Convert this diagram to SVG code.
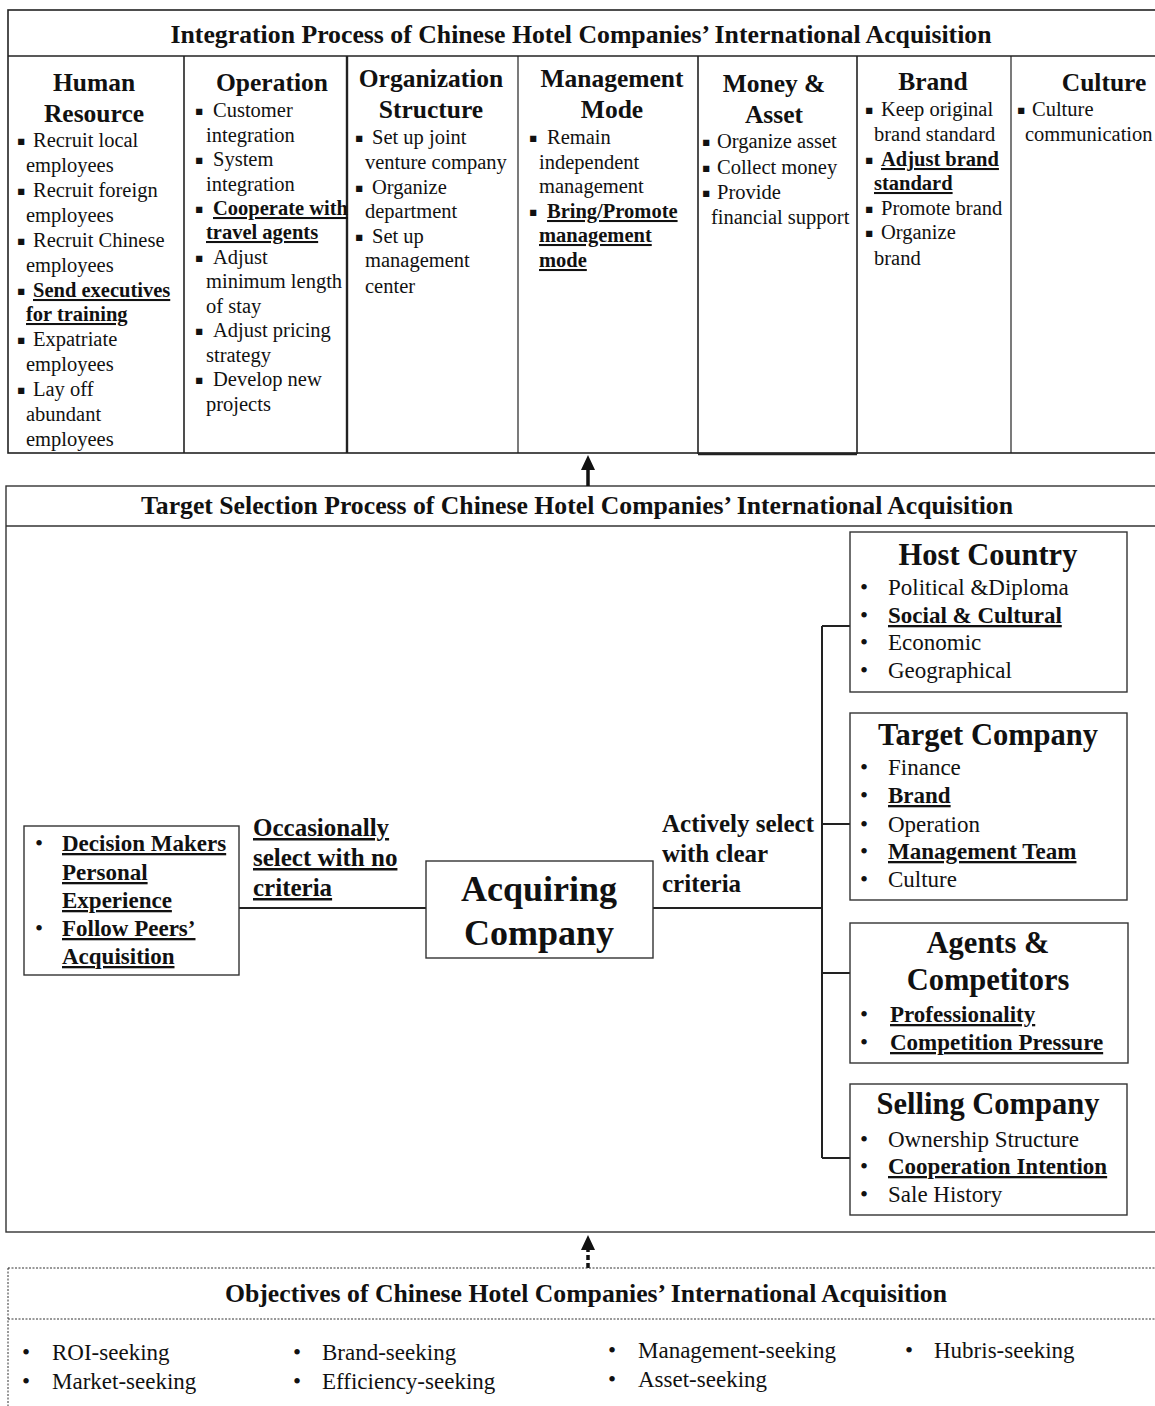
<svg xmlns="http://www.w3.org/2000/svg" width="1155" height="1406" viewBox="0 0 1155 1406">
<style>
text{font-family:"Liberation Serif","Times New Roman",serif;fill:#111}
.ttl{font-size:25.5px;font-weight:bold;text-anchor:middle}
.ch{font-size:25.5px;font-weight:bold;text-anchor:middle}
.tb{font-size:20.5px}
.u{font-weight:bold;text-decoration:underline}
.sq{font-family:"DejaVu Sans",sans-serif;font-size:12.5px}
.frame{fill:none;stroke:#222;stroke-width:1.6}
.box{fill:#fff;stroke:#333;stroke-width:1.4}
.nh{font-size:30.5px;font-weight:bold;text-anchor:middle}
.ni{font-size:23px}
.lbl{font-size:25px;font-weight:bold}
.big{font-size:36px;font-weight:bold;text-anchor:middle}
.conn{fill:none;stroke:#222;stroke-width:2}
.dash{fill:none;stroke:#333;stroke-width:1;stroke-dasharray:2,1.5}
.obj{font-size:23px}
</style>
<defs>
<marker id="ah" markerUnits="userSpaceOnUse" markerWidth="15" markerHeight="15" viewBox="0 0 15 14" refX="0" refY="7" orient="auto">
<path d="M0,0 L15,7 L0,14 z" fill="#111"/>
</marker>
</defs>

<!-- Integration section -->
<g id="integration">
<rect class="frame" x="8" y="10" width="1152" height="443"/>
<line class="frame" x1="8" y1="56" x2="1160" y2="56"/>
<line class="frame" x1="184" y1="56" x2="184" y2="453"/>
<line class="frame" x1="347" y1="56" x2="347" y2="453" style="stroke-width:2.4"/>
<line class="frame" x1="518" y1="56" x2="518" y2="453" style="stroke-width:1.2"/>
<line class="frame" x1="698" y1="56" x2="698" y2="454"/>
<line class="frame" x1="857" y1="56" x2="857" y2="454"/>
<line class="frame" x1="1011" y1="56" x2="1011" y2="453" style="stroke-width:1.2"/>
<line class="frame" x1="698" y1="454" x2="857" y2="454" style="stroke-width:2.4"/>
<text class="ttl" x="581" y="43" textLength="821" lengthAdjust="spacingAndGlyphs">Integration Process of Chinese Hotel Companies’ International Acquisition</text>
</g>

<g id="col-human-resource">
<text class="ch" x="94" y="91">Human</text>
<text class="ch" x="94" y="122">Resource</text>
<text class="tb"><tspan class="sq" x="17" y="145">▪</tspan><tspan x="33" y="147">Recruit local</tspan></text>
<text class="tb" x="26" y="172">employees</text>
<text class="tb"><tspan class="sq" x="17" y="195">▪</tspan><tspan x="33" y="197">Recruit foreign</tspan></text>
<text class="tb" x="26" y="222">employees</text>
<text class="tb"><tspan class="sq" x="17" y="245">▪</tspan><tspan x="33" y="247">Recruit Chinese</tspan></text>
<text class="tb" x="26" y="272">employees</text>
<text class="tb"><tspan class="sq" x="17" y="295">▪</tspan><tspan class="u" x="33" y="297">Send executives</tspan></text>
<text class="tb u" x="26" y="321">for training</text>
<text class="tb"><tspan class="sq" x="17" y="344">▪</tspan><tspan x="33" y="346">Expatriate</tspan></text>
<text class="tb" x="26" y="371">employees</text>
<text class="tb"><tspan class="sq" x="17" y="394">▪</tspan><tspan x="33" y="396">Lay off</tspan></text>
<text class="tb" x="26" y="421">abundant</text>
<text class="tb" x="26" y="446">employees</text>
</g>

<g id="col-operation">
<text class="ch" x="272" y="91">Operation</text>
<text class="tb"><tspan class="sq" x="195" y="115">▪</tspan><tspan x="213" y="117">Customer</tspan></text>
<text class="tb" x="206" y="142">integration</text>
<text class="tb"><tspan class="sq" x="195" y="164">▪</tspan><tspan x="213" y="166">System</tspan></text>
<text class="tb" x="206" y="191">integration</text>
<text class="tb"><tspan class="sq" x="195" y="213">▪</tspan><tspan class="u" x="213" y="215">Cooperate with</tspan></text>
<text class="tb u" x="206" y="239">travel agents</text>
<text class="tb"><tspan class="sq" x="195" y="262">▪</tspan><tspan x="213" y="264">Adjust</tspan></text>
<text class="tb" x="206" y="288">minimum length</text>
<text class="tb" x="206" y="313">of stay</text>
<text class="tb"><tspan class="sq" x="195" y="335">▪</tspan><tspan x="213" y="337">Adjust pricing</tspan></text>
<text class="tb" x="206" y="362">strategy</text>
<text class="tb"><tspan class="sq" x="195" y="384">▪</tspan><tspan x="213" y="386">Develop new</tspan></text>
<text class="tb" x="206" y="411">projects</text>
</g>

<g id="col-organization-structure">
<text class="ch" x="431" y="87">Organization</text>
<text class="ch" x="431" y="118">Structure</text>
<text class="tb"><tspan class="sq" x="355" y="142">▪</tspan><tspan x="372" y="144">Set up joint</tspan></text>
<text class="tb" x="365" y="169">venture company</text>
<text class="tb"><tspan class="sq" x="355" y="192">▪</tspan><tspan x="372" y="194">Organize</tspan></text>
<text class="tb" x="365" y="218">department</text>
<text class="tb"><tspan class="sq" x="355" y="241">▪</tspan><tspan x="372" y="243">Set up</tspan></text>
<text class="tb" x="365" y="267">management</text>
<text class="tb" x="365" y="293">center</text>
</g>

<g id="col-management-mode">
<text class="ch" x="612" y="87">Management</text>
<text class="ch" x="612" y="118">Mode</text>
<text class="tb"><tspan class="sq" x="529" y="142">▪</tspan><tspan x="547" y="144">Remain</tspan></text>
<text class="tb" x="539" y="169">independent</text>
<text class="tb" x="539" y="193">management</text>
<text class="tb"><tspan class="sq" x="529" y="216">▪</tspan><tspan class="u" x="547" y="218">Bring/Promote</tspan></text>
<text class="tb u" x="539" y="242">management</text>
<text class="tb u" x="539" y="267">mode</text>
</g>

<g id="col-money-asset">
<text class="ch" x="774" y="92">Money &amp;</text>
<text class="ch" x="774" y="123">Asset</text>
<text class="tb"><tspan class="sq" x="702" y="146">▪</tspan><tspan x="717" y="148">Organize asset</tspan></text>
<text class="tb"><tspan class="sq" x="702" y="172">▪</tspan><tspan x="717" y="174">Collect money</tspan></text>
<text class="tb"><tspan class="sq" x="702" y="197">▪</tspan><tspan x="717" y="199">Provide</tspan></text>
<text class="tb" x="711" y="224">financial support</text>
</g>

<g id="col-brand">
<text class="ch" x="933" y="90">Brand</text>
<text class="tb"><tspan class="sq" x="865" y="114">▪</tspan><tspan x="881" y="116">Keep original</tspan></text>
<text class="tb" x="874" y="141">brand standard</text>
<text class="tb"><tspan class="sq" x="865" y="164">▪</tspan><tspan class="u" x="881" y="166">Adjust brand</tspan></text>
<text class="tb u" x="874" y="190">standard</text>
<text class="tb"><tspan class="sq" x="865" y="213">▪</tspan><tspan x="881" y="215">Promote brand</tspan></text>
<text class="tb"><tspan class="sq" x="865" y="237">▪</tspan><tspan x="881" y="239">Organize</tspan></text>
<text class="tb" x="874" y="265">brand</text>
</g>

<g id="col-culture">
<text class="ch" x="1104" y="91">Culture</text>
<text class="tb"><tspan class="sq" x="1017" y="114">▪</tspan><tspan x="1032" y="116">Culture</tspan></text>
<text class="tb" x="1025" y="141">communication</text>
</g>

<!-- Target selection section -->
<g id="target-selection">
<rect class="frame" x="6" y="486" width="1154" height="746" style="stroke:#333;stroke-width:1.4"/>
<line class="frame" x1="6" y1="526" x2="1160" y2="526" style="stroke:#333;stroke-width:1.4"/>
<text class="ttl" x="577" y="514" textLength="872" lengthAdjust="spacingAndGlyphs">Target Selection Process of Chinese Hotel Companies’ International Acquisition</text>
</g>

<g id="connectors">
<line class="conn" x1="239" y1="908" x2="426" y2="908"/>
<path class="conn" d="M653,908 H822 M822,626 V1158 M822,626 H850 M822,824 H850 M822,973 H850 M822,1158 H850"/>
<line x1="588" y1="486" x2="588" y2="470" stroke="#111" stroke-width="3.5" marker-end="url(#ah)"/>
<line x1="588" y1="1268" x2="588" y2="1250" stroke="#111" stroke-width="3.5" stroke-dasharray="5,3" marker-end="url(#ah)"/>
</g>

<g id="node-personal">
<rect class="box" x="24" y="826" width="215" height="149"/>
<text class="ni" x="35" y="851">•</text>
<text class="ni u" x="62" y="851">Decision Makers</text>
<text class="ni u" x="62" y="880">Personal</text>
<text class="ni u" x="62" y="908">Experience</text>
<text class="ni" x="35" y="936">•</text>
<text class="ni u" x="62" y="936">Follow Peers’</text>
<text class="ni u" x="62" y="964">Acquisition</text>
</g>

<g id="label-occasionally">
<text class="lbl u" x="253" y="836">Occasionally</text>
<text class="lbl u" x="253" y="866">select with no</text>
<text class="lbl u" x="253" y="896">criteria</text>
</g>

<g id="node-acquiring">
<rect class="box" x="426" y="861" width="227" height="97"/>
<text class="big" x="539" y="901">Acquiring</text>
<text class="big" x="539" y="945">Company</text>
</g>

<g id="label-actively">
<text class="lbl" x="662" y="832">Actively select</text>
<text class="lbl" x="662" y="862">with clear</text>
<text class="lbl" x="662" y="892">criteria</text>
</g>

<g id="node-host-country">
<rect class="box" x="850" y="532" width="277" height="160"/>
<text class="nh" x="988" y="565">Host Country</text>
<text class="ni" x="860" y="595">•</text><text class="ni" x="888" y="595">Political &amp;Diploma</text>
<text class="ni" x="860" y="623">•</text><text class="ni u" x="888" y="623">Social &amp; Cultural</text>
<text class="ni" x="860" y="650">•</text><text class="ni" x="888" y="650">Economic</text>
<text class="ni" x="860" y="678">•</text><text class="ni" x="888" y="678">Geographical</text>
</g>

<g id="node-target-company">
<rect class="box" x="850" y="713" width="277" height="187"/>
<text class="nh" x="988" y="745">Target Company</text>
<text class="ni" x="860" y="775">•</text><text class="ni" x="888" y="775">Finance</text>
<text class="ni" x="860" y="803">•</text><text class="ni u" x="888" y="803">Brand</text>
<text class="ni" x="860" y="832">•</text><text class="ni" x="888" y="832">Operation</text>
<text class="ni" x="860" y="859">•</text><text class="ni u" x="888" y="859">Management Team</text>
<text class="ni" x="860" y="887">•</text><text class="ni" x="888" y="887">Culture</text>
</g>

<g id="node-agents">
<rect class="box" x="850" y="923" width="278" height="140"/>
<text class="nh" x="988" y="953">Agents &amp;</text>
<text class="nh" x="988" y="990">Competitors</text>
<text class="ni" x="860" y="1022">•</text><text class="ni u" x="890" y="1022">Professionality</text>
<text class="ni" x="860" y="1050">•</text><text class="ni u" x="890" y="1050">Competition Pressure</text>
</g>

<g id="node-selling">
<rect class="box" x="850" y="1084" width="277" height="131"/>
<text class="nh" x="988" y="1114">Selling Company</text>
<text class="ni" x="860" y="1147">•</text><text class="ni" x="888" y="1147">Ownership Structure</text>
<text class="ni" x="860" y="1174">•</text><text class="ni u" x="888" y="1174">Cooperation Intention</text>
<text class="ni" x="860" y="1202">•</text><text class="ni" x="888" y="1202">Sale History</text>
</g>

<!-- Objectives section -->
<g id="objectives">
<rect class="dash" x="8" y="1268" width="1152" height="200"/>
<line class="dash" x1="8" y1="1319" x2="1160" y2="1319"/>
<text class="ttl" x="586" y="1302" textLength="722" lengthAdjust="spacingAndGlyphs">Objectives of Chinese Hotel Companies’ International Acquisition</text>
<text class="obj" x="22" y="1360">•</text><text class="obj" x="52" y="1360">ROI-seeking</text>
<text class="obj" x="22" y="1389">•</text><text class="obj" x="52" y="1389">Market-seeking</text>
<text class="obj" x="293" y="1360">•</text><text class="obj" x="322" y="1360">Brand-seeking</text>
<text class="obj" x="293" y="1389">•</text><text class="obj" x="322" y="1389">Efficiency-seeking</text>
<text class="obj" x="608" y="1358">•</text><text class="obj" x="638" y="1358">Management-seeking</text>
<text class="obj" x="608" y="1387">•</text><text class="obj" x="638" y="1387">Asset-seeking</text>
<text class="obj" x="905" y="1358">•</text><text class="obj" x="934" y="1358">Hubris-seeking</text>
</g>
</svg>
